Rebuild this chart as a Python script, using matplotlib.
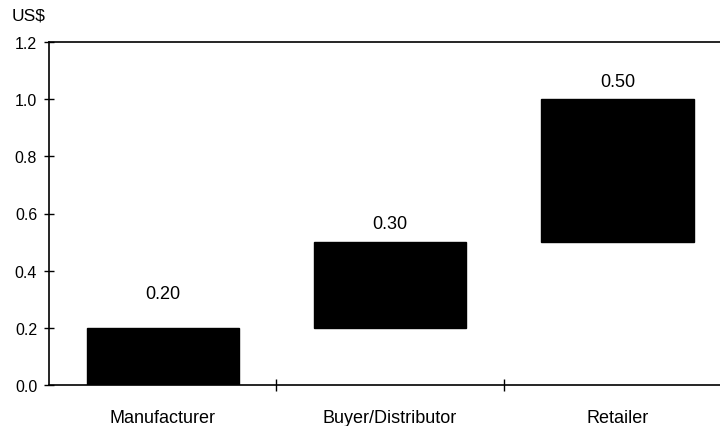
import matplotlib
matplotlib.use("Agg")
import matplotlib.pyplot as plt
import numpy as np

plt.rcParams['font.family'] = ['Liberation Sans', 'DejaVu Sans']

categories = ["Manufacturer", "Buyer/Distributor", "Retailer"]
values = [0.20, 0.30, 0.50]
value_labels = ["0.20", "0.30", "0.50"]
y_ticks = [0.0, 0.2, 0.4, 0.6, 0.8, 1.0, 1.2]

# cumulative bottoms for the waterfall steps
bottoms = np.concatenate([[0.0], np.cumsum(values)[:-1]])
tops = bottoms + np.array(values)

fig = plt.figure(figsize=(7.2, 4.27), dpi=100)
ax = fig.add_axes([49 / 720, 1 - 386 / 427, (731.25 - 49) / 720, (386 - 43) / 427])

x = np.arange(len(categories))
ax.bar(x, values, bottom=bottoms, width=0.67, color="black", edgecolor="black")

# label offsets above each bar, in pixels
label_offsets = [34, 19, 18]
for xi, top, lab, off in zip(x, tops, value_labels, label_offsets):
    ax.annotate(lab, (xi, top), xytext=(0, off), textcoords="offset pixels",
                ha="center", va="center", fontsize=13)

ax.set_xlim(-0.5, len(categories) - 0.5)
ax.set_ylim(0, 1.2)
ax.set_yticks(y_ticks)
ax.set_yticklabels([f"{t:.1f}" for t in y_ticks])
ax.set_xticks(x)
ax.set_xticklabels(categories)
ax.set_xticks(x[:-1] + 0.5, minor=True)

ax.tick_params(axis="y", direction="inout", length=7, width=1, labelsize=11.5, pad=5)
ax.tick_params(axis="x", which="major", length=0, labelsize=13, pad=17.5)
ax.tick_params(axis="x", which="minor", direction="inout", length=8, width=1)

for s in ax.spines.values():
    s.set_linewidth(1.2)

fig.text(12 / 720, 1 - 21 / 427, "US$", fontsize=12.5, ha="left", va="baseline")

fig.savefig("out.png", dpi=100)
